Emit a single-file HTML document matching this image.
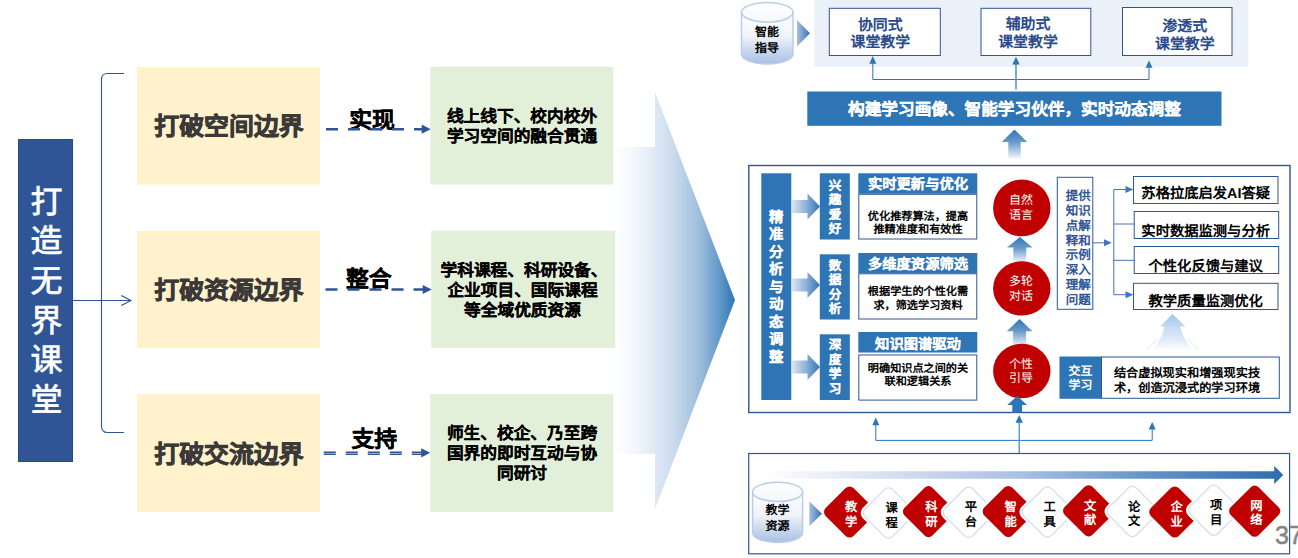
<!DOCTYPE html>
<html lang="zh-CN">
<head>
<meta charset="utf-8">
<title>打造无界课堂</title>
<style>
html,body{margin:0;padding:0;background:#fff;}
body{width:1298px;height:558px;position:relative;overflow:hidden;font-family:"Liberation Sans",sans-serif;}
#stage{position:absolute;left:0;top:0;width:1298px;height:558px;overflow:hidden;background:#fff;}
#stage svg{position:absolute;left:0;top:0;}
.t{position:absolute;width:400px;text-align:center;white-space:nowrap;font-weight:700;overflow:visible;font-family:"Liberation Sans",sans-serif;text-rendering:geometricPrecision;}
.pg{position:absolute;left:1275px;top:520.5px;font-size:25px;line-height:28px;color:#858585;-webkit-text-stroke:0.5px #858585;white-space:nowrap;font-family:"Liberation Sans",sans-serif;}
</style>
</head>
<body>
<div id="stage">
<svg width="1298" height="558" viewBox="0 0 1298 558">
<defs>
<linearGradient id="gBig" x1="0" y1="0" x2="1" y2="0">
 <stop offset="0" stop-color="#FFFFFF"/><stop offset="0.2" stop-color="#F1F5FB"/>
 <stop offset="0.5" stop-color="#C9DAEC"/><stop offset="0.72" stop-color="#9ABBDB"/>
 <stop offset="0.88" stop-color="#5E96C8"/><stop offset="1" stop-color="#2E75B6"/>
</linearGradient>
<linearGradient id="gUp" x1="0" y1="0" x2="0" y2="1">
 <stop offset="0" stop-color="#2E75B6"/><stop offset="0.45" stop-color="#6A9BCB"/><stop offset="1" stop-color="#EEF3FA"/>
</linearGradient>
<linearGradient id="gRt" x1="0" y1="0" x2="1" y2="0">
 <stop offset="0" stop-color="#DCE6F4"/><stop offset="0.5" stop-color="#8FB0D8"/><stop offset="1" stop-color="#2E75B6"/>
</linearGradient>
<linearGradient id="gTri" x1="0" y1="0" x2="1" y2="0">
 <stop offset="0" stop-color="#A9BFE3"/><stop offset="1" stop-color="#3D6DB5"/>
</linearGradient>
<linearGradient id="gCyl" x1="0" y1="0" x2="0" y2="1">
 <stop offset="0" stop-color="#FFFFFF"/><stop offset="0.45" stop-color="#F0F4FA"/><stop offset="1" stop-color="#A9C0E3"/>
</linearGradient>
<linearGradient id="gCylTop" x1="0" y1="0" x2="0" y2="1">
 <stop offset="0" stop-color="#FFFFFF"/><stop offset="1" stop-color="#F4F7FC"/>
</linearGradient>
<linearGradient id="gLong" x1="0" y1="0" x2="1" y2="0">
 <stop offset="0" stop-color="#FFFFFF"/><stop offset="0.25" stop-color="#D5DEF1"/>
 <stop offset="0.5" stop-color="#A9BEE3"/><stop offset="0.75" stop-color="#5F92C7"/><stop offset="1" stop-color="#2E6DAE"/>
</linearGradient>
<linearGradient id="gFaint" x1="0" y1="0" x2="0" y2="1">
 <stop offset="0" stop-color="#9FC4EC"/><stop offset="0.35" stop-color="#C4DAF2"/><stop offset="0.75" stop-color="#E3ECF8"/><stop offset="1" stop-color="#FBFCFE"/>
</linearGradient>
</defs>
<polygon points="614,147 655,147 655,92 735,300 655,509 655,454 614,454" fill="url(#gBig)"/>
<rect x="18.5" y="139.5" width="54" height="322" fill="#2F5597" stroke="#27498C" stroke-width="1" />
<path d="M124 73.5 H107.5 Q101.5 73.5 101.5 79.5 V426.5 Q101.5 432.5 107.5 432.5 H124" fill="none" stroke="#2F5597" stroke-width="1.1"/>
<path d="M73 300.5 H130.5 M121.3 295.4 L131 300.5 L121.3 305.6" fill="none" stroke="#2F5597" stroke-width="1.15"/>
<rect x="137" y="67" width="183" height="117.5" fill="#FFF2CC" />
<rect x="430.3" y="67" width="183" height="117.5" fill="#E2F0D9" />
<rect x="137" y="230.8" width="183" height="117" fill="#FFF2CC" />
<rect x="431.3" y="230.8" width="184" height="117" fill="#E2F0D9" />
<rect x="137" y="394" width="183" height="118" fill="#FFF2CC" />
<rect x="430.3" y="394" width="183" height="118" fill="#E2F0D9" />
<rect x="814.3" y="0" width="434.2" height="66.8" fill="#EBF1F9" />
<path d="M741.5 12.3 V54.2 A25.75 9.8 0 0 0 793 54.2 V12.3 Z" fill="url(#gCyl)" stroke="#B9CDEA" stroke-width="1.5"/>
<ellipse cx="767.25" cy="12.3" rx="25.75" ry="9.8" fill="url(#gCylTop)" stroke="#B9CDEA" stroke-width="1.5"/>
<polygon points="797,20 810,33.2 797,46.4" fill="url(#gTri)"/>
<rect x="829.3" y="8.3" width="111" height="47.2" fill="#fff" stroke="#2F5597" stroke-width="1" />
<rect x="981" y="8.3" width="109.8" height="47.2" fill="#fff" stroke="#2F5597" stroke-width="1" />
<rect x="1122.5" y="7.5" width="109.5" height="48" fill="#fff" stroke="#2F5597" stroke-width="1" />
<path d="M872.8 62 V79.5 H1149 V66" fill="none" stroke="#2E75B6" stroke-width="1"/>
<polygon points="872.8,56 869.3,63.8 876.3,63.8" fill="#2E75B6"/>
<polygon points="1149,60.5 1145.5,67.8 1152.5,67.8" fill="#2E75B6"/>
<path d="M1016 63 V89.5" fill="none" stroke="#5B93C9" stroke-width="1.6"/>
<polygon points="1016,56.8 1012.3,64.6 1019.7,64.6" fill="#2E75B6"/>
<rect x="807.3" y="91.5" width="414.2" height="34.3" fill="#2E75B6" />
<polygon points="1014.5,129.5 1027.3,142 1020.7,142 1020.7,158 1008.3,158 1008.3,142 1001.7,142" fill="url(#gUp)"/>
<rect x="748.8" y="165.5" width="541.2" height="247" fill="#fff" stroke="#2F5597" stroke-width="1.4" />
<rect x="761.3" y="173.3" width="30" height="226.7" fill="#2E75B6" />
<polygon points="792,200 807.5,200 807.5,193.5 820,206.5 807.5,219.5 807.5,213 792,213" fill="url(#gRt)"/>
<rect x="819.8" y="173.3" width="30" height="66.2" fill="#2E75B6" />
<rect x="858.3" y="173.3" width="119" height="20.5" fill="#2E75B6" />
<rect x="858.8" y="194.3" width="118" height="44.7" fill="#fff" stroke="#2F5597" stroke-width="1" />
<polygon points="792,278.5 807.5,278.5 807.5,272 820,285 807.5,298 807.5,291.5 792,291.5" fill="url(#gRt)"/>
<rect x="819.8" y="254.3" width="30" height="65.2" fill="#2E75B6" />
<rect x="858.3" y="253" width="119" height="20.3" fill="#2E75B6" />
<rect x="858.8" y="273.8" width="118" height="45.2" fill="#fff" stroke="#2F5597" stroke-width="1" />
<polygon points="792,360.5 807.5,360.5 807.5,354 820,367 807.5,380 807.5,373.5 792,373.5" fill="url(#gRt)"/>
<rect x="819.8" y="334.3" width="30" height="65.7" fill="#2E75B6" />
<rect x="858.3" y="332" width="119" height="20.5" fill="#2E75B6" />
<rect x="858.8" y="355" width="118" height="45.1" fill="#fff" stroke="#2F5597" stroke-width="1" />
<polygon points="1019.8,237 1032.6,247.5 1026.3,247.5 1026.3,262 1013.3,262 1013.3,247.5 1007,247.5" fill="url(#gUp)"/>
<polygon points="1019.6,319 1032.4,331.3 1026.1,331.3 1026.1,346 1013.1,346 1013.1,331.3 1006.8,331.3" fill="url(#gUp)"/>
<ellipse cx="1021.8" cy="207.9" rx="28.7" ry="28.4" fill="#C00000"/>
<ellipse cx="1021.8" cy="288.4" rx="28.7" ry="27.2" fill="#C00000"/>
<ellipse cx="1021.8" cy="371" rx="28.7" ry="27.2" fill="#C00000"/>
<polygon points="1017.2,396 1027.1,405 1022.1,405 1022.1,412.5 1012.3,412.5 1012.3,405 1007.3,405" fill="#2E75B6"/>
<rect x="1057.3" y="177.3" width="35.5" height="132" fill="#fff" stroke="#2F5597" stroke-width="1" />
<path d="M1093 242.8 H1106 M1113.8 189.5 V294.7 M1113.8 189.5 H1127 M1113.8 224 H1134 M1113.8 260.3 H1134 M1113.8 294.7 H1127" fill="none" stroke="#4472C4" stroke-width="1"/>
<polygon points="1111.8,242.8 1104,239.3 1104,246.3" fill="#4472C4"/>
<polygon points="1133.3,189.5 1125.5,186 1125.5,193" fill="#4472C4"/>
<polygon points="1133.3,294.7 1125.5,291.2 1125.5,298.2" fill="#4472C4"/>
<rect x="1133.5" y="176.5" width="144.5" height="27" fill="#fff" stroke="#2F5597" stroke-width="1" />
<rect x="1134.2" y="211.5" width="144.5" height="27" fill="#fff" stroke="#2F5597" stroke-width="1" />
<rect x="1134.2" y="246.5" width="144.5" height="27" fill="#fff" stroke="#2F5597" stroke-width="1" />
<rect x="1133.5" y="283.3" width="144.5" height="26.2" fill="#fff" stroke="#2F5597" stroke-width="1" />
<path d="M1172.5 314 L1185.4 326.6 H1180.3 Q1183.5 340 1192.8 349.6 H1152.7 Q1161.5 340 1164.6 326.6 H1160.1 Z" fill="url(#gFaint)"/>
<path d="M1157.7 339.5 L1146.4 349.8 M1187.8 339.5 L1199.1 349.8" fill="none" stroke="#DDE0E5" stroke-width="0.8"/>
<rect x="1059.5" y="356.5" width="42" height="42.3" fill="#2E75B6" />
<rect x="1101.5" y="357" width="177.8" height="41.3" fill="#fff" stroke="#2F5597" stroke-width="1" />
<path d="M875.8 424 V440.4 H1152.2 V428" fill="none" stroke="#2E75B6" stroke-width="1"/>
<polygon points="875.8,417.5 872.3,425.2 879.3,425.2" fill="#2E75B6"/>
<polygon points="1152.2,422 1148.7,429.6 1155.7,429.6" fill="#2E75B6"/>
<path d="M1019.2 421 V453" fill="none" stroke="#5B93C9" stroke-width="1.4"/>
<polygon points="1019.2,415 1015.5,422.7 1022.9,422.7" fill="#2E75B6"/>
<rect x="748.7" y="453.5" width="540.9" height="100.3" fill="#fff" stroke="#2F5597" stroke-width="1.2" />
<polygon points="762,471.3 1274.2,471.3 1274.2,466 1283.3,475.1 1274.2,484 1274.2,478.8 762,478.8" fill="url(#gLong)"/>
<path d="M752.6 491.9 V532.8 A25 9.6 0 0 0 802.6 532.8 V491.9 Z" fill="url(#gCyl)" stroke="#B9CDEA" stroke-width="1.5"/>
<ellipse cx="777.6" cy="491.9" rx="25" ry="9.6" fill="url(#gCylTop)" stroke="#B9CDEA" stroke-width="1.5"/>
<polygon points="809.3,501.2 822,513.7 809.3,526.3" fill="url(#gTri)"/>
<rect x="-21.9" y="-21.9" width="43.8" height="43.8" rx="7.5" transform="translate(849.6 512) rotate(45)" fill="#fff"/>
<rect x="-19.7" y="-19.7" width="39.4" height="39.4" rx="5.5" transform="translate(849.6 512) rotate(45)" fill="#C00000"/>
<rect x="-21.9" y="-21.9" width="43.8" height="43.8" rx="7.5" transform="translate(888.6 513) rotate(45)" fill="#fff"/>
<rect x="-19.4" y="-19.4" width="38.8" height="38.8" rx="5.5" transform="translate(888.6 513) rotate(45)" fill="#fff" stroke="#CFDAF0" stroke-width="1.1"/>
<rect x="-21.9" y="-21.9" width="43.8" height="43.8" rx="7.5" transform="translate(928.5 511.6) rotate(45)" fill="#fff"/>
<rect x="-19.7" y="-19.7" width="39.4" height="39.4" rx="5.5" transform="translate(928.5 511.6) rotate(45)" fill="#C00000"/>
<rect x="-21.9" y="-21.9" width="43.8" height="43.8" rx="7.5" transform="translate(968.6 512.3) rotate(45)" fill="#fff"/>
<rect x="-19.4" y="-19.4" width="38.8" height="38.8" rx="5.5" transform="translate(968.6 512.3) rotate(45)" fill="#fff" stroke="#CFDAF0" stroke-width="1.1"/>
<rect x="-21.9" y="-21.9" width="43.8" height="43.8" rx="7.5" transform="translate(1008.3 511.5) rotate(45)" fill="#fff"/>
<rect x="-19.7" y="-19.7" width="39.4" height="39.4" rx="5.5" transform="translate(1008.3 511.5) rotate(45)" fill="#C00000"/>
<rect x="-21.9" y="-21.9" width="43.8" height="43.8" rx="7.5" transform="translate(1047.3 512) rotate(45)" fill="#fff"/>
<rect x="-19.4" y="-19.4" width="38.8" height="38.8" rx="5.5" transform="translate(1047.3 512) rotate(45)" fill="#fff" stroke="#CFDAF0" stroke-width="1.1"/>
<rect x="-21.9" y="-21.9" width="43.8" height="43.8" rx="7.5" transform="translate(1088.6 510.8) rotate(45)" fill="#fff"/>
<rect x="-19.7" y="-19.7" width="39.4" height="39.4" rx="5.5" transform="translate(1088.6 510.8) rotate(45)" fill="#C00000"/>
<rect x="-21.9" y="-21.9" width="43.8" height="43.8" rx="7.5" transform="translate(1132.4 511.5) rotate(45)" fill="#fff"/>
<rect x="-19.4" y="-19.4" width="38.8" height="38.8" rx="5.5" transform="translate(1132.4 511.5) rotate(45)" fill="#fff" stroke="#CFDAF0" stroke-width="1.1"/>
<rect x="-21.9" y="-21.9" width="43.8" height="43.8" rx="7.5" transform="translate(1174.8 512) rotate(45)" fill="#fff"/>
<rect x="-19.7" y="-19.7" width="39.4" height="39.4" rx="5.5" transform="translate(1174.8 512) rotate(45)" fill="#C00000"/>
<rect x="-21.9" y="-21.9" width="43.8" height="43.8" rx="7.5" transform="translate(1213.8 510.2) rotate(45)" fill="#fff"/>
<rect x="-19.4" y="-19.4" width="38.8" height="38.8" rx="5.5" transform="translate(1213.8 510.2) rotate(45)" fill="#fff" stroke="#CFDAF0" stroke-width="1.1"/>
<rect x="-21.9" y="-21.9" width="43.8" height="43.8" rx="7.5" transform="translate(1254.7 511.2) rotate(45)" fill="#fff"/>
<rect x="-19.7" y="-19.7" width="39.4" height="39.4" rx="5.5" transform="translate(1254.7 511.2) rotate(45)" fill="#C00000"/>
</svg>
<div class="t" style="left:-153.5px;top:182.60px;height:38px;line-height:38px;font-size:32px;color:#fff;font-weight:400;-webkit-text-stroke:0.7px #fff;">打</div>
<div class="t" style="left:-153.5px;top:222.30px;height:38px;line-height:38px;font-size:32px;color:#fff;font-weight:400;-webkit-text-stroke:0.7px #fff;">造</div>
<div class="t" style="left:-153.5px;top:262.00px;height:38px;line-height:38px;font-size:32px;color:#fff;font-weight:400;-webkit-text-stroke:0.7px #fff;">无</div>
<div class="t" style="left:-153.5px;top:301.70px;height:38px;line-height:38px;font-size:32px;color:#fff;font-weight:400;-webkit-text-stroke:0.7px #fff;">界</div>
<div class="t" style="left:-153.5px;top:341.40px;height:38px;line-height:38px;font-size:32px;color:#fff;font-weight:400;-webkit-text-stroke:0.7px #fff;">课</div>
<div class="t" style="left:-153.5px;top:381.10px;height:38px;line-height:38px;font-size:32px;color:#fff;font-weight:400;-webkit-text-stroke:0.7px #fff;">堂</div>
<div class="t" style="left:29px;top:112.25px;height:30px;line-height:30px;font-size:24.9px;color:#3B3838;-webkit-text-stroke:0.7px #3B3838;">打破空间边界</div>
<div class="t" style="left:322px;top:107.00px;height:20px;line-height:20px;font-size:16.7px;color:#000;-webkit-text-stroke:0.2px #000;">线上线下、校内校外</div>
<div class="t" style="left:322px;top:126.90px;height:20px;line-height:20px;font-size:16.7px;color:#000;-webkit-text-stroke:0.2px #000;">学习空间的融合贯通</div>
<div class="t" style="left:172px;top:106.40px;height:28px;line-height:28px;font-size:22.8px;color:#000;-webkit-text-stroke:0.27px #000;">实现</div>
<div class="t" style="left:29px;top:275.80px;height:30px;line-height:30px;font-size:24.9px;color:#3B3838;-webkit-text-stroke:0.7px #3B3838;">打破资源边界</div>
<div class="t" style="left:324px;top:260.50px;height:20px;line-height:20px;font-size:16.7px;color:#000;-webkit-text-stroke:0.2px #000;">学科课程、科研设备、</div>
<div class="t" style="left:322.5px;top:280.50px;height:20px;line-height:20px;font-size:16.7px;color:#000;-webkit-text-stroke:0.2px #000;">企业项目、国际课程</div>
<div class="t" style="left:322.5px;top:300.50px;height:20px;line-height:20px;font-size:16.7px;color:#000;-webkit-text-stroke:0.2px #000;">等全域优质资源</div>
<div class="t" style="left:168.8px;top:264.70px;height:28px;line-height:28px;font-size:22.8px;color:#000;-webkit-text-stroke:0.27px #000;">整合</div>
<div class="t" style="left:29px;top:439.50px;height:30px;line-height:30px;font-size:24.9px;color:#3B3838;-webkit-text-stroke:0.7px #3B3838;">打破交流边界</div>
<div class="t" style="left:322px;top:423.50px;height:20px;line-height:20px;font-size:16.7px;color:#000;-webkit-text-stroke:0.2px #000;">师生、校企、乃至跨</div>
<div class="t" style="left:322px;top:443.60px;height:20px;line-height:20px;font-size:16.7px;color:#000;-webkit-text-stroke:0.2px #000;">国界的即时互动与协</div>
<div class="t" style="left:322px;top:464.00px;height:20px;line-height:20px;font-size:16.7px;color:#000;-webkit-text-stroke:0.2px #000;">同研讨</div>
<div class="t" style="left:174.2px;top:425.40px;height:28px;line-height:28px;font-size:22.8px;color:#000;-webkit-text-stroke:0.27px #000;">支持</div>
<div class="t" style="left:567px;top:23.80px;height:16px;line-height:16px;font-size:12px;color:#000;">智能</div>
<div class="t" style="left:567px;top:39.50px;height:16px;line-height:16px;font-size:12px;color:#000;">指导</div>
<div class="t" style="left:680.3px;top:17.30px;height:18px;line-height:18px;font-size:14.9px;color:#2A4A8A;">协同式</div>
<div class="t" style="left:680.3px;top:33.80px;height:18px;line-height:18px;font-size:14.9px;color:#2A4A8A;">课堂教学</div>
<div class="t" style="left:828px;top:16.00px;height:18px;line-height:18px;font-size:14.9px;color:#2A4A8A;">辅助式</div>
<div class="t" style="left:828px;top:33.80px;height:18px;line-height:18px;font-size:14.9px;color:#2A4A8A;">课堂教学</div>
<div class="t" style="left:984.8px;top:17.50px;height:18px;line-height:18px;font-size:14.9px;color:#2A4A8A;">渗透式</div>
<div class="t" style="left:984.8px;top:35.50px;height:18px;line-height:18px;font-size:14.9px;color:#2A4A8A;">课堂教学</div>
<div class="t" style="left:814.5px;top:100.20px;height:20px;line-height:20px;font-size:16.65px;color:#fff;-webkit-text-stroke:0.2px #fff;">构建学习画像、智能学习伙伴，实时动态调整</div>
<div class="t" style="left:576.3px;top:209.00px;height:18px;line-height:18px;font-size:14.4px;color:#fff;-webkit-text-stroke:0.15px #fff;">精</div>
<div class="t" style="left:576.3px;top:226.45px;height:18px;line-height:18px;font-size:14.4px;color:#fff;-webkit-text-stroke:0.15px #fff;">准</div>
<div class="t" style="left:576.3px;top:243.90px;height:18px;line-height:18px;font-size:14.4px;color:#fff;-webkit-text-stroke:0.15px #fff;">分</div>
<div class="t" style="left:576.3px;top:261.35px;height:18px;line-height:18px;font-size:14.4px;color:#fff;-webkit-text-stroke:0.15px #fff;">析</div>
<div class="t" style="left:576.3px;top:278.80px;height:18px;line-height:18px;font-size:14.4px;color:#fff;-webkit-text-stroke:0.15px #fff;">与</div>
<div class="t" style="left:576.3px;top:296.25px;height:18px;line-height:18px;font-size:14.4px;color:#fff;-webkit-text-stroke:0.15px #fff;">动</div>
<div class="t" style="left:576.3px;top:313.70px;height:18px;line-height:18px;font-size:14.4px;color:#fff;-webkit-text-stroke:0.15px #fff;">态</div>
<div class="t" style="left:576.3px;top:331.15px;height:18px;line-height:18px;font-size:14.4px;color:#fff;-webkit-text-stroke:0.15px #fff;">调</div>
<div class="t" style="left:576.3px;top:348.60px;height:18px;line-height:18px;font-size:14.4px;color:#fff;-webkit-text-stroke:0.15px #fff;">整</div>
<div class="t" style="left:635px;top:178.00px;height:16px;line-height:16px;font-size:12.6px;color:#fff;-webkit-text-stroke:0.15px #fff;">兴</div>
<div class="t" style="left:635px;top:192.45px;height:16px;line-height:16px;font-size:12.6px;color:#fff;-webkit-text-stroke:0.15px #fff;">趣</div>
<div class="t" style="left:635px;top:206.90px;height:16px;line-height:16px;font-size:12.6px;color:#fff;-webkit-text-stroke:0.15px #fff;">爱</div>
<div class="t" style="left:635px;top:221.35px;height:16px;line-height:16px;font-size:12.6px;color:#fff;-webkit-text-stroke:0.15px #fff;">好</div>
<div class="t" style="left:718px;top:176.30px;height:18px;line-height:18px;font-size:14.3px;color:#fff;-webkit-text-stroke:0.15px #fff;">实时更新与优化</div>
<div class="t" style="left:718px;top:209.50px;height:14px;line-height:14px;font-size:11.15px;color:#000;">优化推荐算法，提高</div>
<div class="t" style="left:718px;top:223.30px;height:14px;line-height:14px;font-size:11.15px;color:#000;">推精准度和有效性</div>
<div class="t" style="left:635px;top:258.00px;height:16px;line-height:16px;font-size:12.6px;color:#fff;-webkit-text-stroke:0.15px #fff;">数</div>
<div class="t" style="left:635px;top:272.45px;height:16px;line-height:16px;font-size:12.6px;color:#fff;-webkit-text-stroke:0.15px #fff;">据</div>
<div class="t" style="left:635px;top:286.90px;height:16px;line-height:16px;font-size:12.6px;color:#fff;-webkit-text-stroke:0.15px #fff;">分</div>
<div class="t" style="left:635px;top:301.35px;height:16px;line-height:16px;font-size:12.6px;color:#fff;-webkit-text-stroke:0.15px #fff;">析</div>
<div class="t" style="left:718px;top:256.30px;height:18px;line-height:18px;font-size:14.3px;color:#fff;-webkit-text-stroke:0.15px #fff;">多维度资源筛选</div>
<div class="t" style="left:718px;top:285.30px;height:14px;line-height:14px;font-size:11.15px;color:#000;">根据学生的个性化需</div>
<div class="t" style="left:718px;top:298.60px;height:14px;line-height:14px;font-size:11.15px;color:#000;">求，筛选学习资料</div>
<div class="t" style="left:635px;top:337.30px;height:16px;line-height:16px;font-size:12.6px;color:#fff;-webkit-text-stroke:0.15px #fff;">深</div>
<div class="t" style="left:635px;top:351.75px;height:16px;line-height:16px;font-size:12.6px;color:#fff;-webkit-text-stroke:0.15px #fff;">度</div>
<div class="t" style="left:635px;top:366.20px;height:16px;line-height:16px;font-size:12.6px;color:#fff;-webkit-text-stroke:0.15px #fff;">学</div>
<div class="t" style="left:635px;top:380.65px;height:16px;line-height:16px;font-size:12.6px;color:#fff;-webkit-text-stroke:0.15px #fff;">习</div>
<div class="t" style="left:718px;top:335.80px;height:18px;line-height:18px;font-size:14.3px;color:#fff;-webkit-text-stroke:0.15px #fff;">知识图谱驱动</div>
<div class="t" style="left:718px;top:362.30px;height:14px;line-height:14px;font-size:11.15px;color:#000;">明确知识点之间的关</div>
<div class="t" style="left:718px;top:375.30px;height:14px;line-height:14px;font-size:11.15px;color:#000;">联和逻辑关系</div>
<div class="t" style="left:821px;top:193.40px;height:15px;line-height:15px;font-size:12px;color:#fff;font-weight:400;">自然</div>
<div class="t" style="left:821px;top:208.20px;height:15px;line-height:15px;font-size:12px;color:#fff;font-weight:400;">语言</div>
<div class="t" style="left:821px;top:273.90px;height:15px;line-height:15px;font-size:12px;color:#fff;font-weight:400;">多轮</div>
<div class="t" style="left:821px;top:288.70px;height:15px;line-height:15px;font-size:12px;color:#fff;font-weight:400;">对话</div>
<div class="t" style="left:821px;top:356.50px;height:15px;line-height:15px;font-size:12px;color:#fff;font-weight:400;">个性</div>
<div class="t" style="left:821px;top:371.30px;height:15px;line-height:15px;font-size:12px;color:#fff;font-weight:400;">引导</div>
<div class="t" style="left:878.3px;top:189.00px;height:15px;line-height:15px;font-size:12.5px;color:#2F5597;">提供</div>
<div class="t" style="left:878.3px;top:204.00px;height:15px;line-height:15px;font-size:12.5px;color:#2F5597;">知识</div>
<div class="t" style="left:878.3px;top:218.80px;height:15px;line-height:15px;font-size:12.5px;color:#2F5597;">点解</div>
<div class="t" style="left:878.3px;top:233.50px;height:15px;line-height:15px;font-size:12.5px;color:#2F5597;">释和</div>
<div class="t" style="left:878.3px;top:248.40px;height:15px;line-height:15px;font-size:12.5px;color:#2F5597;">示例</div>
<div class="t" style="left:878.3px;top:263.30px;height:15px;line-height:15px;font-size:12.5px;color:#2F5597;">深入</div>
<div class="t" style="left:878.3px;top:278.30px;height:15px;line-height:15px;font-size:12.5px;color:#2F5597;">理解</div>
<div class="t" style="left:878.3px;top:293.20px;height:15px;line-height:15px;font-size:12.5px;color:#2F5597;">问题</div>
<div class="t" style="left:1005.7px;top:185.30px;height:18px;line-height:18px;font-size:14.3px;color:#000;">苏格拉底启发AI答疑</div>
<div class="t" style="left:1005.7px;top:222.80px;height:18px;line-height:18px;font-size:14.3px;color:#000;">实时数据监测与分析</div>
<div class="t" style="left:1005.7px;top:257.50px;height:18px;line-height:18px;font-size:14.3px;color:#000;">个性化反馈与建议</div>
<div class="t" style="left:1005.7px;top:292.80px;height:18px;line-height:18px;font-size:14.3px;color:#000;">教学质量监测优化</div>
<div class="t" style="left:880.4px;top:364.30px;height:15px;line-height:15px;font-size:11.9px;color:#fff;">交互</div>
<div class="t" style="left:880.4px;top:378.00px;height:15px;line-height:15px;font-size:11.9px;color:#fff;">学习</div>
<div class="t" style="left:987px;top:366.00px;height:15px;line-height:15px;font-size:12.2px;color:#000;">结合虚拟现实和增强现实技</div>
<div class="t" style="left:987px;top:381.00px;height:15px;line-height:15px;font-size:12.2px;color:#000;">术，创造沉浸式的学习环境</div>
<div class="t" style="left:577.5px;top:502.10px;height:16px;line-height:16px;font-size:12px;color:#000;">教学</div>
<div class="t" style="left:577.5px;top:518.40px;height:16px;line-height:16px;font-size:12px;color:#000;">资源</div>
<div class="t" style="left:651.2px;top:500.30px;height:15px;line-height:15px;font-size:12.3px;color:#fff;">教</div>
<div class="t" style="left:651.2px;top:514.80px;height:15px;line-height:15px;font-size:12.3px;color:#fff;">学</div>
<div class="t" style="left:691.6px;top:500.80px;height:15px;line-height:15px;font-size:12.3px;color:#000;">课</div>
<div class="t" style="left:691.6px;top:515.70px;height:15px;line-height:15px;font-size:12.3px;color:#000;">程</div>
<div class="t" style="left:731.5px;top:499.50px;height:15px;line-height:15px;font-size:12.3px;color:#fff;">科</div>
<div class="t" style="left:731.5px;top:514.50px;height:15px;line-height:15px;font-size:12.3px;color:#fff;">研</div>
<div class="t" style="left:771px;top:499.50px;height:15px;line-height:15px;font-size:12.3px;color:#000;">平</div>
<div class="t" style="left:771px;top:515.20px;height:15px;line-height:15px;font-size:12.3px;color:#000;">台</div>
<div class="t" style="left:810.6px;top:500.30px;height:15px;line-height:15px;font-size:12.3px;color:#fff;">智</div>
<div class="t" style="left:810.6px;top:514.50px;height:15px;line-height:15px;font-size:12.3px;color:#fff;">能</div>
<div class="t" style="left:849.6px;top:500.30px;height:15px;line-height:15px;font-size:12.3px;color:#000;">工</div>
<div class="t" style="left:849.6px;top:515.20px;height:15px;line-height:15px;font-size:12.3px;color:#000;">具</div>
<div class="t" style="left:890.2px;top:499.20px;height:15px;line-height:15px;font-size:12.3px;color:#fff;">文</div>
<div class="t" style="left:890.2px;top:512.90px;height:15px;line-height:15px;font-size:12.3px;color:#fff;">献</div>
<div class="t" style="left:934.1px;top:499.90px;height:15px;line-height:15px;font-size:12.3px;color:#000;">论</div>
<div class="t" style="left:934.1px;top:514.10px;height:15px;line-height:15px;font-size:12.3px;color:#000;">文</div>
<div class="t" style="left:976.7px;top:500.30px;height:15px;line-height:15px;font-size:12.3px;color:#fff;">企</div>
<div class="t" style="left:976.7px;top:514.50px;height:15px;line-height:15px;font-size:12.3px;color:#fff;">业</div>
<div class="t" style="left:1016.1px;top:498.00px;height:15px;line-height:15px;font-size:12.3px;color:#000;">项</div>
<div class="t" style="left:1016.1px;top:512.50px;height:15px;line-height:15px;font-size:12.3px;color:#000;">目</div>
<div class="t" style="left:1056.3px;top:498.70px;height:15px;line-height:15px;font-size:12.3px;color:#fff;">网</div>
<div class="t" style="left:1056.3px;top:512.50px;height:15px;line-height:15px;font-size:12.3px;color:#fff;">络</div>
<div class="pg">37</div>
<svg width="1298" height="558" viewBox="0 0 1298 558">
<path d="M326 129.2 H422.7" fill="none" stroke="#2F5597" stroke-width="2.4" stroke-dasharray="12 10"/>
<polygon points="430.7,129.2 421.7,124.6 421.7,133.8" fill="#2F5597"/>
<path d="M325.5 289.5 H423.7" fill="none" stroke="#2F5597" stroke-width="2.4" stroke-dasharray="12 10"/>
<polygon points="431.7,289.5 422.7,284.9 422.7,294.1" fill="#2F5597"/>
<path d="M323.8 452.2 H422.2 M323.8 454.3 H422.2" fill="none" stroke="#2F5597" stroke-width="1.4" stroke-dasharray="12 10"/>
<polygon points="430.2,452.8 421.2,448.2 421.2,457.4" fill="#2F5597"/>
</svg>
</div>
</body>
</html>
